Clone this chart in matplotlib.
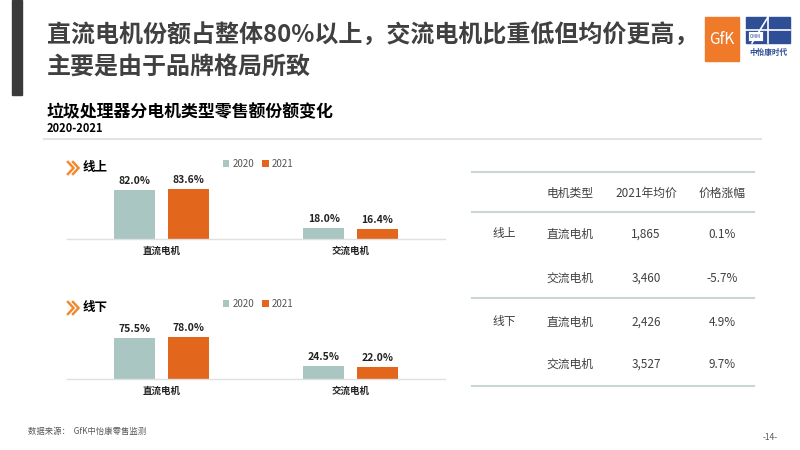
import matplotlib.pyplot as plt
import matplotlib.patches as mpatches
import numpy as np

plt.rcParams["font.family"] = ["Noto Sans CJK SC", "DejaVu Sans"]

TEAL = "#A9C6C3"
ORANGE = "#E2661B"
DARK = "#404040"
LINE = "#CCD5D5"

# ── data ────────────────────────────────────────────────────────────
categories = ["直流电机", "交流电机"]
years = ["2020", "2021"]
online_2020 = [82.0, 18.0]
online_2021 = [83.6, 16.4]
offline_2020 = [75.5, 24.5]
offline_2021 = [78.0, 22.0]

tbl_header = ["电机类型", "2021年均价", "价格涨幅"]
tbl_channel = ["线上", "", "线下", ""]
tbl_type = ["直流电机", "交流电机", "直流电机", "交流电机"]
tbl_price = ["1,865", "3,460", "2,426", "3,527"]
tbl_change = ["0.1%", "-5.7%", "4.9%", "9.7%"]

W, H = 800, 450
fig = plt.figure(figsize=(8, 4.5), dpi=100)
fig.patch.set_facecolor("white")

# overlay axes in pixel coordinates for text, lines and logos
ov = fig.add_axes([0, 0, 1, 1])
ov.set_xlim(0, W)
ov.set_ylim(H, 0)
ov.axis("off")

# left dark band
ov.add_patch(mpatches.Rectangle((12, 0), 10, 95, color="#3A3A3A"))

# title
ov.text(47, 35, "直流电机份额占整体80%以上，交流电机比重低但均价更高，",
        fontsize=17.3, fontweight="bold", color=DARK, va="center")
ov.text(47, 68, "主要是由于品牌格局所致",
        fontsize=17.3, fontweight="bold", color=DARK, va="center")

# logos
ov.add_patch(mpatches.Rectangle((705, 17), 34, 44, color="#EE7A2A"))
ov.text(722, 40, "GfK", fontsize=11, color="white", ha="center", va="center")
ov.add_patch(mpatches.Rectangle((746, 17), 44, 26, color="#2E4E96"))
ov.plot([768, 768], [17, 43], color="white", lw=1.2)
ov.plot([746, 790], [30, 30], color="white", lw=1.2)
ov.plot([752, 768], [43, 17], color="white", lw=1.2)
ov.add_patch(mpatches.Rectangle((748, 31), 15, 10, facecolor="white", edgecolor="#2E4E96", lw=0.6))
ov.text(755.5, 36, "CMM", fontsize=3.5, color="#2E4E96", ha="center", va="center")
ov.text(768, 52, "中怡康时代", fontsize=5.5, color="#2E4E96", ha="center", va="center",
        fontweight="bold")

# subtitle
ov.text(47, 112, "垃圾处理器分电机类型零售额份额变化",
        fontsize=12.2, fontweight="bold", color="black", va="center")
ov.text(47, 128, "2020-2021", fontsize=8, fontweight="bold", color="black", va="center")
ov.plot([44, 761], [139, 139], color="#E3E3E3", lw=1.5)

# ── bar panels ──────────────────────────────────────────────────────
def panel(base_px, scale, v20, v21, label, title_y):
    top_px = base_px - scale * 100
    ax = fig.add_axes([67 / W, (H - base_px) / H, 378 / W, (base_px - top_px) / H])
    x = np.arange(len(categories))
    width = 0.22
    off = 0.142
    b1 = ax.bar(x - off, v20, width, color=TEAL, label=years[0])
    b2 = ax.bar(x + off, v21, width, color=ORANGE, label=years[1])
    for bars, vals in ((b1, v20), (b2, v21)):
        for bar, v in zip(bars, vals):
            ax.text(bar.get_x() + bar.get_width() / 2, v + 7, f"{v:.1f}%",
                    ha="center", va="bottom", fontsize=7.5, fontweight="bold",
                    color="#222222", clip_on=False)
    ax.set_xlim(-0.5, 1.5)
    ax.set_ylim(0, 100)
    ax.set_xticks(x)
    ax.set_xticklabels(categories, fontsize=6.8, fontweight="bold", color="#222222")
    ax.tick_params(axis="x", length=0, pad=5)
    ax.set_yticks([])
    for s in ("top", "right", "left"):
        ax.spines[s].set_visible(False)
    ax.spines["bottom"].set_color("#E0E0E0")
    ax.spines["bottom"].set_linewidth(1.0)
    ax.patch.set_alpha(0)
    ax.legend(ncol=2, frameon=False, fontsize=7, handlelength=0.7, handleheight=0.7,
              columnspacing=0.8, handletextpad=0.3, loc="center",
              bbox_to_anchor=(258 / W, (H - title_y + 4) / H),
              bbox_transform=fig.transFigure, labelcolor="#555555")
    # double chevron marker
    for dx in (0, 5):
        ov.plot([68 + dx, 73.5 + dx, 68 + dx],
                [title_y - 6, title_y, title_y + 6],
                color="#F08A30", lw=1.8, solid_joinstyle="miter")
    ov.text(83, title_y, label, fontsize=9, fontweight="bold", color="black", va="center")

panel(239, 0.6, online_2020, online_2021, "线上", 168)
panel(379, 0.54, offline_2020, offline_2021, "线下", 308)

# ── table ───────────────────────────────────────────────────────────
for yl in (172, 212, 298, 386):
    ov.plot([472, 754], [yl, yl], color=LINE, lw=1.5)
col_x = [504, 570, 646, 722]
for j, head in enumerate(tbl_header):
    ov.text(col_x[j + 1], 193, head, fontsize=8.5, color=DARK, ha="center", va="center")
row_y = [234, 278, 322, 364]
for i, y in enumerate(row_y):
    ov.text(col_x[0], y, tbl_channel[i], fontsize=8.5, color=DARK, ha="center", va="center")
    ov.text(col_x[1], y, tbl_type[i], fontsize=8.5, color=DARK, ha="center", va="center")
    ov.text(col_x[2], y, tbl_price[i], fontsize=8.5, color=DARK, ha="center", va="center")
    ov.text(col_x[3], y, tbl_change[i], fontsize=8.5, color=DARK, ha="center", va="center")

# footer
ov.text(28, 431, "数据来源：  GfK中怡康零售监测", fontsize=6, color="#595959", va="center")
ov.text(778, 437, "-14-", fontsize=6, color="#595959", va="center", ha="right")

fig.savefig("out.png", dpi=100)
